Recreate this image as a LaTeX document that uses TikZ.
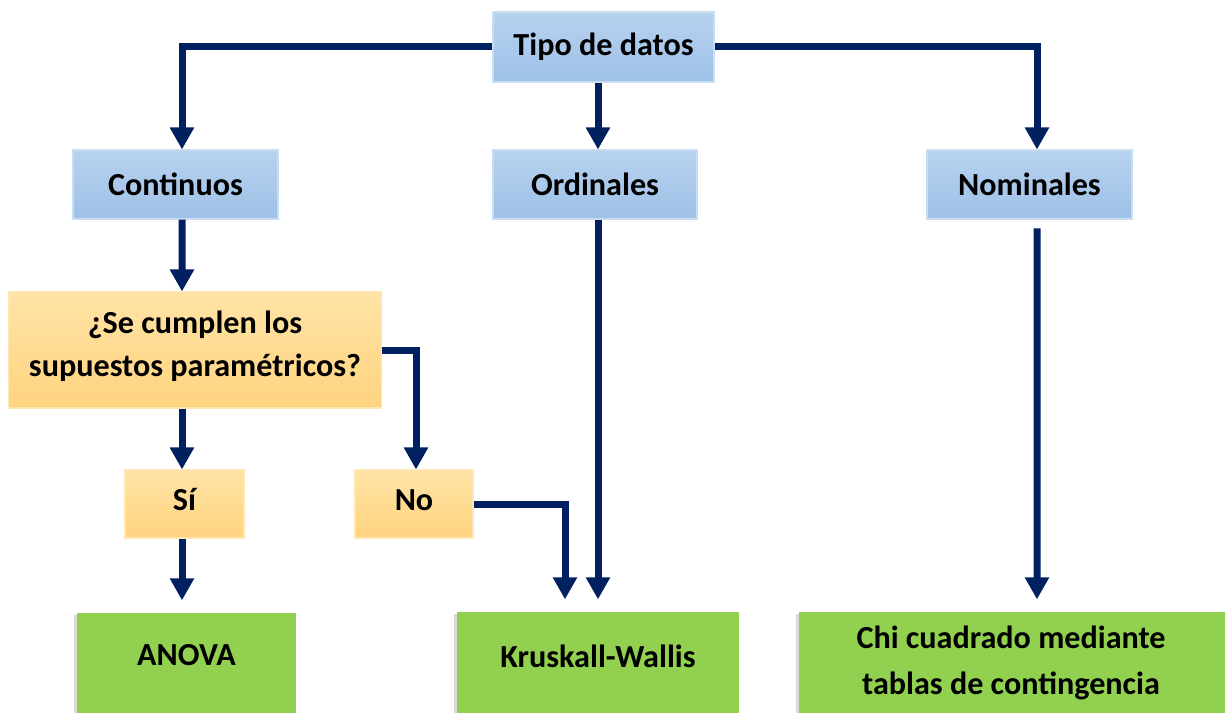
\documentclass[tikz,border=0pt]{standalone}
\usepackage{fontspec}
\setmainfont{Carlito}
\usetikzlibrary{arrows.meta,calc,shadows}
\definecolor{navy}{HTML}{002060}
\definecolor{bluetop}{HTML}{B8D2EF}
\definecolor{bluebot}{HTML}{9DC0E7}
\definecolor{blueline}{HTML}{C9DCF2}
\definecolor{ortop}{HTML}{FFE3A6}
\definecolor{orbot}{HTML}{FFD47F}
\definecolor{orline}{HTML}{FFE7B5}
\definecolor{green}{HTML}{92D050}
\tikzset{
  box/.style={rectangle, inner sep=0pt, font=\bfseries\fontsize{18.3}{24}\selectfont, align=center, text=black},
  bluebox/.style={box, top color=bluetop, bottom color=bluebot, draw=blueline, line width=0.6pt},
  orbox/.style={box, top color=ortop, bottom color=orbot, draw=orline, line width=0.6pt},
  grbox/.style={box, fill=green, drop shadow={shadow xshift=-0.07cm, shadow yshift=-0.03cm, opacity=0.3}},
  txt/.style={font=\bfseries\fontsize{18.3}{24}\selectfont, align=center, inner sep=0pt},
  conn/.style={draw=navy, line width=0.14cm, -{Triangle[width=0.46cm,length=0.44cm]}},
}
\begin{document}
\begin{tikzpicture}[x=0.02cm, y=-0.02cm]
\useasboundingbox (0,0) rectangle (1225,713);
% nodes
\node[bluebox, minimum width=4.42cm, minimum height=1.40cm] (tipo) at (603.5,47) {Tipo de datos};
\node[bluebox, minimum width=4.10cm, minimum height=1.38cm] (cont) at (175.5,184.5) {Continuos};
\node[bluebox, minimum width=4.08cm, minimum height=1.38cm] (ord) at (595,184.5) {Ordinales};
\node[bluebox, minimum width=4.10cm, minimum height=1.38cm] (nom) at (1029.5,184.5) {Nominales};
\node[orbox, minimum width=7.48cm, minimum height=2.32cm] (sup) at (195,350) {};
\node[txt, font=\bfseries\fontsize{18.3}{24.5}\selectfont] (supt) at (195,346) {¿Se cumplen los\\supuestos paramétricos?};
\node[orbox, minimum width=2.38cm, minimum height=1.36cm] (si) at (184.5,504) {};
\node[txt] (sit) at (184.5,500) {Sí};
\node[orbox, minimum width=2.36cm, minimum height=1.36cm] (no) at (414,504) {};
\node[txt] (not) at (414,500) {No};
\node[grbox, minimum width=4.38cm, minimum height=2.34cm] (anova) at (186.5,671.5) {};
\node[txt] (anovat) at (186.5,655) {ANOVA};
\node[grbox, minimum width=5.64cm, minimum height=2.36cm] (krus) at (598,671) {};
\node[txt] (krust) at (598,656) {Kruskall-Wallis};
\node[grbox, minimum width=8.72cm, minimum height=2.36cm] (chi) at (1017,671) {};
\node[txt, font=\bfseries\fontsize{18.3}{26}\selectfont] (chit) at (1011,663) {Chi cuadrado mediante\\tablas de contingencia};
% connectors
\draw[conn] (tipo.west) -| ($(cont.north)+(6.5,0)$);
\draw[conn] ($(tipo.south)+(-5.5,0)$) -- ($(ord.north)+(3,0)$);
\draw[conn] (tipo.east) -| ($(nom.north)+(7.5,0)$);
\draw[conn] ($(cont.south)+(6.5,0)$) -- ($(sup.north)+(-13,0)$);
\draw[conn] ($(sup.south)+(-13,0)$) -- ($(si.north)+(-2.5,0)$);
\draw[conn] (sup.east) -| ($(no.north)+(2,0)$);
\draw[conn, shorten >=7] ($(si.south)+(-2.5,0)$) -- ($(anova.north)+(-4.5,0)$);
\draw[conn, shorten >=7] (no.east) -| ($(krus.north)+(-33,0)$);
\draw[conn, shorten >=7] ($(ord.south)+(3,0)$) -- (krus.north);
\draw[conn, shorten >=7, shorten <=5] ($(nom.south)+(7.5,0)$) -- ($(chi.north)+(20,0)$);
\end{tikzpicture}
\end{document}
